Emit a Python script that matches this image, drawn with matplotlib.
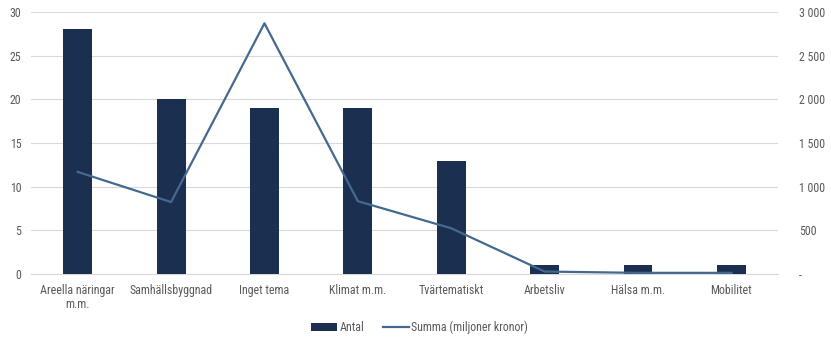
import matplotlib
matplotlib.use("Agg")
import matplotlib.pyplot as plt
from matplotlib import font_manager as fm
from matplotlib.ticker import FuncFormatter

# pick a narrow face if one is installed
chosen = None
for f in fm.fontManager.ttflist:
    if f.name in ("Liberation Sans Narrow", "Roboto Condensed", "Open Sans Condensed") and f.weight in (400, "normal", "regular"):
        chosen = f.fname
        break
if chosen is None:
    for f in fm.fontManager.ttflist:
        if f.name in ("DejaVu Sans", "Roboto", "Open Sans", "Noto Sans") and str(f.stretch) in ("condensed", "semi-condensed", "extra-condensed", "500", "300", "200") and f.style == "normal" and f.weight in (400, "normal", "regular"):
            chosen = f.fname
            break
if chosen:
    fm.fontManager.addfont(chosen)
    prop = fm.FontProperties(fname=chosen)
    plt.rcParams['font.family'] = [prop.get_name(), "DejaVu Sans"]
    if "condensed" in chosen.lower():
        plt.rcParams['font.stretch'] = 'condensed'
    fsize = 8.6
else:
    plt.rcParams['font.family'] = ["Roboto", "DejaVu Sans"]
    fsize = 8

categories = ["Areella näringar\nm.m.", "Samhällsbyggnad", "Inget tema", "Klimat m.m.",
              "Tvärtematiskt", "Arbetsliv", "Hälsa m.m.", "Mobilitet"]
antal = [28, 20, 19, 19, 13, 1, 1, 1]
summa = [1170, 825, 2870, 835, 525, 30, 15, 15]

bar_color = "#1b3050"
line_color = "#44698f"
text_color = "#595959"

fig = plt.figure(figsize=(8.31, 3.41), dpi=100)
ax = fig.add_axes([0.0373, 0.196, 0.899, 0.769])
x = range(len(categories))
ax.bar(x, antal, width=0.31, color=bar_color, zorder=3, label="Antal")
ax.set_ylim(0, 30)
ax.set_yticks(range(0, 31, 5))
ax.set_xlim(-0.5, 7.5)
ax.set_xticks(list(x))
ax.set_xticklabels(categories, fontsize=fsize, color=text_color, linespacing=1.1)
ax.grid(axis='y', color="#d9d9d9", linewidth=0.8, zorder=0)
for s in ax.spines.values():
    s.set_visible(False)
ax.spines['bottom'].set_visible(True)
ax.spines['bottom'].set_color("#d9d9d9")
ax.tick_params(axis='both', length=0, labelsize=fsize, colors=text_color, pad=7)

ax2 = ax.twinx()
ax2.plot(list(x), summa, color=line_color, linewidth=1.6, zorder=4, label="Summa (miljoner kronor)")
ax2.set_ylim(0, 3000)
ax2.set_yticks(range(0, 3001, 500))
def fmt(v, p):
    if v == 0:
        return "-   "
    return f"{int(v):,}".replace(",", " ")
ax2.yaxis.set_major_formatter(FuncFormatter(fmt))
for s in ax2.spines.values():
    s.set_visible(False)
ax2.tick_params(axis='y', length=0, labelsize=fsize, colors=text_color, pad=15)
for lbl in ax2.get_yticklabels():
    lbl.set_horizontalalignment('left')

h1, l1 = ax.get_legend_handles_labels()
h2, l2 = ax2.get_legend_handles_labels()
fig.legend(h1 + h2, l1 + l2, loc='center', bbox_to_anchor=(0.505, 0.04), ncol=2, frameon=False,
           fontsize=fsize, labelcolor=text_color, handlelength=2.2, handletextpad=0.2, columnspacing=1.5,
           handleheight=0.6)

fig.savefig("out.png", dpi=100)
